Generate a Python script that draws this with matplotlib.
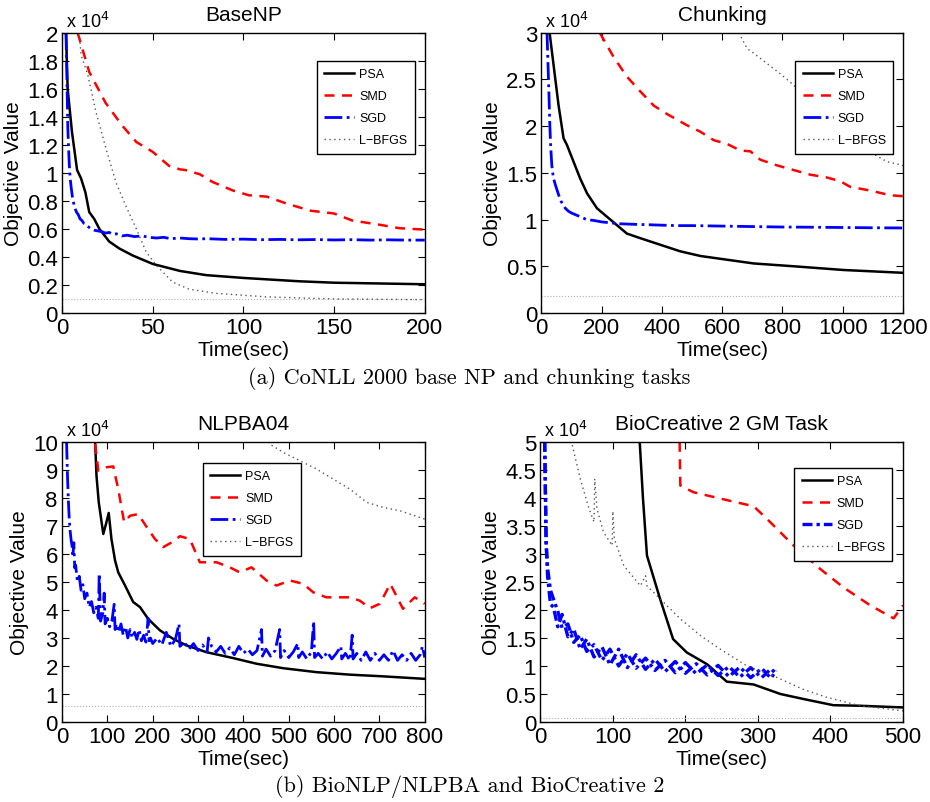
"""Objective value vs. training time for PSA, SMD, SGD and L-BFGS on four tagging tasks."""

import matplotlib

matplotlib.use("Agg")
import matplotlib.pyplot as plt
from matplotlib.ticker import FormatStrFormatter, MultipleLocator

plt.rcParams["font.family"] = ["Liberation Sans", "DejaVu Sans"]

# ---- BaseNP (y in units of 1e4) ----
basenp_psa_x = [2.2, 3.1, 5.5, 8.3, 10.5, 12.9, 15, 17.8, 20.6, 26, 31.6, 39, 50, 65, 79.5, 100, 131, 150, 200]
basenp_psa_y = [2.0, 1.6, 1.29, 1.02, 0.96, 0.86, 0.72, 0.67, 0.60, 0.51, 0.46, 0.41, 0.35, 0.30, 0.27, 0.25, 0.226, 0.216, 0.205]
basenp_smd_x = [8.6, 15, 24, 33, 41, 50, 59, 65, 68, 76, 83, 94, 103, 113, 124, 137, 150, 160, 175, 186, 200]
basenp_smd_y = [2.0, 1.72, 1.5, 1.34, 1.22, 1.15, 1.05, 1.025, 1.02, 0.99, 0.935, 0.875, 0.84, 0.83, 0.78, 0.73,
                0.71, 0.66, 0.63, 0.605, 0.595]
basenp_sgd_x = [2.2, 2.8, 3.2, 3.6, 4.0, 4.5, 5.0, 5.5, 6.0, 6.5, 7, 8, 9, 10, 11, 12, 13, 14, 15, 16, 17, 18, 20, 22,
                24, 26, 28, 30, 33, 36, 40, 44, 48, 52, 56, 60, 65, 70, 75, 80, 90, 100, 110, 120, 130, 140, 150, 160,
                170, 180, 190, 200]
basenp_sgd_y = [2.0, 1.6, 1.32, 1.18, 1.06, 0.96, 0.90, 0.85, 0.80, 0.78, 0.75, 0.72, 0.70, 0.67, 0.66, 0.64, 0.635,
                0.62, 0.61, 0.60, 0.595, 0.59, 0.585, 0.58, 0.57, 0.575, 0.56, 0.565, 0.55, 0.555, 0.545, 0.55, 0.54,
                0.535, 0.54, 0.53, 0.535, 0.53, 0.528, 0.53, 0.525, 0.527, 0.523, 0.525, 0.522, 0.524, 0.521, 0.523,
                0.52, 0.522, 0.52, 0.52]
basenp_lbfgs_x = [9.5, 10.5, 14.2, 18.8, 24.3, 29.8, 35, 41, 46.4, 52, 61, 70, 85, 112.6, 150, 200]
basenp_lbfgs_y = [2.0, 1.84, 1.70, 1.43, 1.17, 0.93, 0.77, 0.60, 0.435, 0.34, 0.22, 0.17, 0.14, 0.115, 0.10, 0.095]
basenp_opt = 0.1

# ---- Chunking ----
chunk_psa_x = [27.7, 41, 57.5, 74, 85, 107, 129, 152, 185, 218, 251, 284, 329, 395, 461, 528, 594, 705, 837, 1003, 1200]
chunk_psa_y = [3.0, 2.65, 2.22, 1.87, 1.80, 1.62, 1.44, 1.28, 1.12, 1.03, 0.94, 0.85, 0.80, 0.73, 0.66, 0.61, 0.58,
               0.53, 0.50, 0.46, 0.43]
chunk_smd_x = [194, 240, 284, 329, 373, 417, 483, 528, 572, 616, 660, 694, 727, 782, 837, 893, 948, 992, 1025, 1092,
               1158, 1200]
chunk_smd_y = [3.0, 2.74, 2.53, 2.37, 2.22, 2.13, 2.01, 1.94, 1.85, 1.81, 1.74, 1.73, 1.64, 1.58, 1.53, 1.48, 1.45,
               1.41, 1.35, 1.31, 1.26, 1.25]
chunk_sgd_x = [19, 22, 25, 28, 31, 35, 40, 46, 52, 58, 65, 72, 80, 90, 100, 115, 130, 150, 175, 200, 230, 260, 300, 350,
               400, 450, 500, 600, 700, 800, 900, 1000, 1100, 1200]
chunk_sgd_y = [3.0, 2.7, 2.4, 2.05, 1.8, 1.58, 1.45, 1.38, 1.32, 1.26, 1.2, 1.16, 1.12, 1.09, 1.07, 1.05, 1.03, 1.0,
               0.99, 0.975, 0.965, 0.955, 0.95, 0.945, 0.94, 0.935, 0.935, 0.93, 0.925, 0.92, 0.918, 0.915, 0.912, 0.91]
chunk_lbfgs_x = [655, 660, 683, 705, 749, 793, 837, 893, 948, 1003, 1059, 1103, 1147, 1200]
chunk_lbfgs_y = [3.0, 2.97, 2.83, 2.78, 2.67, 2.56, 2.44, 2.26, 2.08, 1.94, 1.80, 1.70, 1.62, 1.58]
chunk_opt = 0.18

# ---- NLPBA04 ----
nlpba_psa_x = [73, 76, 81, 91, 97, 103, 109, 117, 124, 139, 157, 172, 190, 216, 245, 275, 319, 378, 429, 488, 561, 635,
               708, 800]
nlpba_psa_y = [10.0, 8.79, 7.84, 6.71, 7.07, 7.46, 6.53, 5.76, 5.34, 4.87, 4.28, 4.10, 3.68, 3.27, 2.97, 2.73, 2.49,
               2.28, 2.08, 1.92, 1.78, 1.69, 1.63, 1.54]
nlpba_smd_x = [73, 80, 98, 113, 124, 137, 150, 168, 187, 205, 223, 242, 260, 282, 304, 341, 370, 392, 418, 451, 473,
               503, 532, 554, 583, 635, 657, 679, 701, 724, 752, 778, 800]
nlpba_smd_y = [9.92, 8.97, 9.09, 9.12, 8.31, 7.13, 7.36, 7.42, 6.95, 6.53, 6.24, 6.41, 6.63, 6.53, 5.70, 5.70, 5.52,
               5.34, 5.52, 5.05, 4.87, 5.05, 4.93, 4.63, 4.45, 4.45, 4.33, 4.06, 4.22, 4.93, 4.04, 4.45, 4.22]
nlpba_sgd_x = [10, 12, 14, 16, 18, 20, 22, 24, 26, 28, 30, 34, 38, 42, 46, 50, 55, 60, 65, 70, 75, 80, 82, 85, 90, 93,
               95, 100, 105, 110, 115, 117, 120, 125, 130, 135, 140, 145, 150, 155, 160, 165, 170, 175, 180, 185, 190,
               192, 195, 200, 210, 220, 230, 240, 250, 258, 260, 270, 280, 290, 300, 310, 320, 323, 330, 340, 350, 360,
               370, 380, 390, 400, 410, 420, 430, 440, 442, 450, 460, 470, 480, 482, 490, 500, 510, 520, 522, 530, 540,
               550, 555, 557, 565, 575, 585, 595, 605, 615, 617, 625, 635, 640, 642, 650, 660, 670, 680, 690, 700, 710,
               720, 730, 740, 750, 760, 770, 780, 790, 795, 800]
nlpba_sgd_y = [10.0, 8.8, 7.9, 7.2, 6.8, 6.5, 6.3, 5.9, 6.4, 5.5, 5.6, 5.0, 5.2, 4.7, 4.9, 4.4, 4.6, 4.1, 4.3, 3.9,
               4.1, 3.7, 5.3, 3.6, 3.9, 4.6, 3.5, 3.7, 3.4, 3.6, 4.2, 3.3, 3.5, 3.2, 3.5, 3.1, 3.4, 3.0, 3.3, 3.0, 3.2,
               2.95, 3.3, 2.9, 3.1, 2.85, 3.7, 2.9, 3.0, 2.8, 3.0, 2.75, 3.2, 2.7, 2.95, 3.5, 2.7, 2.85, 2.6, 2.8, 2.55,
               2.75, 2.5, 3.0, 2.7, 2.5, 2.7, 2.45, 2.65, 2.4, 2.7, 2.45, 2.6, 2.4, 2.55, 3.3, 2.35, 2.6, 2.35, 2.55,
               3.3, 2.3, 2.55, 2.3, 2.5, 2.8, 2.3, 2.5, 2.25, 2.5, 3.6, 2.3, 2.45, 2.25, 2.5, 2.25, 2.45, 2.7, 2.25,
               2.45, 2.2, 3.1, 2.25, 2.45, 2.2, 2.5, 2.2, 2.45, 2.2, 2.4, 2.2, 2.55, 2.2, 2.4, 2.2, 2.45, 2.2, 2.4, 2.7,
               2.3]
nlpba_lbfgs_x = [455, 458, 488, 525, 561, 598, 635, 672, 708, 745, 800]
nlpba_lbfgs_y = [10.0, 9.92, 9.62, 9.32, 9.03, 8.67, 8.31, 7.84, 7.66, 7.54, 7.24]
nlpba_opt = 0.57

# ---- BioCreative 2 GM ----
bc2_psa_x = [137, 141.5, 147, 165, 183, 202, 230, 257, 294, 331, 363, 404, 441, 500]
bc2_psa_y = [5.0, 3.99, 2.97, 2.2, 1.48, 1.24, 1.03, 0.72, 0.67, 0.50, 0.41, 0.30, 0.29, 0.26]
bc2_smd_x = [192, 193, 211, 257, 294, 312, 349, 386, 418, 455, 487, 500]
bc2_smd_y = [5.0, 4.22, 4.10, 3.96, 3.85, 3.63, 3.15, 2.73, 2.40, 2.08, 1.85, 2.08]
# SGD here oscillates in a thick band: two intertwined strands
bc2_sgd_x = [6, 8, 10, 14, 18, 24, 30, 38, 46, 55, 64, 74, 85, 96, 108, 120, 132, 145, 158, 172, 186, 200, 215, 230,
             245, 260, 275, 290, 305, 318, 325]
bc2_sgd_a = [5.0, 3.2, 2.75, 2.35, 2.2, 1.98, 1.68, 1.75, 1.42, 1.55, 1.26, 1.38, 1.1, 1.3, 1.0, 1.22, 0.96, 1.14,
             0.92, 1.1, 0.88, 1.06, 0.86, 1.02, 0.83, 0.99, 0.8, 0.97, 0.79, 0.95, 0.86]
bc2_sgd_b = [5.0, 3.2, 2.6, 2.1, 2.05, 1.7, 1.92, 1.52, 1.66, 1.3, 1.48, 1.16, 1.34, 1.02, 1.3, 0.97, 1.2, 0.94, 1.12,
             0.9, 1.08, 0.87, 1.04, 0.84, 1.01, 0.81, 0.98, 0.79, 0.96, 0.78, 0.92]
bc2_lbfgs_x = [44, 55, 67, 74, 75, 78, 87, 99, 100, 102, 115, 138, 145, 147, 165, 193, 221, 248, 285, 322, 363, 395,
               441, 500]
bc2_lbfgs_y = [4.94, 4.34, 3.81, 3.57, 4.34, 3.81, 3.39, 3.15, 3.76, 3.27, 2.79, 2.43, 2.61, 2.43, 2.2, 1.84, 1.54,
               1.30, 1.0, 0.82, 0.58, 0.44, 0.29, 0.20]
bc2_opt = 0.08

PANELS = [
    dict(title="BaseNP", rect=[0.0667, 0.609, 0.390, 0.349], xlim=200, xstep=50, ylim=2, ystep=0.2,
         psa=(basenp_psa_x, basenp_psa_y), smd=(basenp_smd_x, basenp_smd_y),
         sgd=[(basenp_sgd_x, basenp_sgd_y)], lbfgs=(basenp_lbfgs_x, basenp_lbfgs_y),
         opt=basenp_opt, leg=(0.702, 0.90), sgd_lw=2.0, sgd_ls="-."),
    dict(title="Chunking", rect=[0.582, 0.609, 0.389, 0.349], xlim=1200, xstep=200, ylim=3, ystep=0.5,
         psa=(chunk_psa_x, chunk_psa_y), smd=(chunk_smd_x, chunk_smd_y),
         sgd=[(chunk_sgd_x, chunk_sgd_y)], lbfgs=(chunk_lbfgs_x, chunk_lbfgs_y),
         opt=chunk_opt, leg=(0.702, 0.90), sgd_lw=2.0, sgd_ls="-."),
    dict(title="NLPBA04", rect=[0.0667, 0.0996, 0.390, 0.349], xlim=800, xstep=100, ylim=10, ystep=1,
         psa=(nlpba_psa_x, nlpba_psa_y), smd=(nlpba_smd_x, nlpba_smd_y),
         sgd=[(nlpba_sgd_x, nlpba_sgd_y)], lbfgs=(nlpba_lbfgs_x, nlpba_lbfgs_y),
         opt=nlpba_opt, leg=(0.388, 0.925), sgd_lw=2.0, sgd_ls="-."),
    dict(title="BioCreative 2 GM Task", rect=[0.581, 0.0996, 0.390, 0.349], xlim=500, xstep=100, ylim=5, ystep=0.5,
         psa=(bc2_psa_x, bc2_psa_y), smd=(bc2_smd_x, bc2_smd_y),
         sgd=[(bc2_sgd_x, bc2_sgd_a), (bc2_sgd_x, bc2_sgd_b)], lbfgs=(bc2_lbfgs_x, bc2_lbfgs_y),
         opt=bc2_opt, leg=(0.70, 0.907), sgd_lw=2.4, sgd_ls=(0, (3, 1.2, 1, 1.2))),
]

fig = plt.figure(figsize=(9.3, 8.03), dpi=100)

for p in PANELS:
    ax = fig.add_axes(p["rect"])
    ax.axhline(p["opt"], color="#b0b0b0", lw=0.8, ls=":")
    ax.plot(*p["psa"], color="black", lw=1.8, ls="-", label="PSA")
    ax.plot(*p["smd"], color="#ff0000", lw=1.8, ls=(0, (4, 3)), label="SMD")
    for i, (sx, sy) in enumerate(p["sgd"]):
        ax.plot(sx, sy, color="#0000ff", lw=p["sgd_lw"], ls=p["sgd_ls"], label="SGD" if i == 0 else None)
    ax.plot(*p["lbfgs"], color="#555555", lw=1.0, ls=(0, (1, 2.5)), label="L\u2212BFGS")

    ax.set_xlim(0, p["xlim"])
    ax.set_ylim(0, p["ylim"])
    ax.xaxis.set_major_locator(MultipleLocator(p["xstep"]))
    ax.yaxis.set_major_locator(MultipleLocator(p["ystep"]))
    ax.yaxis.set_major_formatter(FormatStrFormatter("%g"))
    ax.tick_params(direction="in", length=5, width=0.8, top=True, right=True, labelsize=16, pad=3)
    for s in ax.spines.values():
        s.set_linewidth(1.0)

    ax.set_title(p["title"], fontsize=15, pad=9)
    ax.set_xlabel("Time(sec)", fontsize=15, labelpad=1)
    ax.set_ylabel("Objective Value", fontsize=15, labelpad=3)
    ax.text(0.01, 1.005, r"x 10$^{4}$", transform=ax.transAxes, fontsize=13, ha="left", va="bottom")

    leg = ax.legend(loc="upper left", bbox_to_anchor=p["leg"], borderaxespad=0, fontsize=9, handlelength=2.4,
                    handletextpad=0.4, labelspacing=0.8, borderpad=0.6, fancybox=False, framealpha=1,
                    edgecolor="black")
    leg.get_frame().set_linewidth(1.0)

fig.text(0.505, 0.529, "(a) CoNLL 2000 base NP and chunking tasks", family="cmr10", fontsize=16,
         ha="center", va="center")
fig.text(0.505, 0.02, "(b) BioNLP/NLPBA and BioCreative 2", family="cmr10", fontsize=16,
         ha="center", va="center")

fig.savefig("out.png", dpi=100)
